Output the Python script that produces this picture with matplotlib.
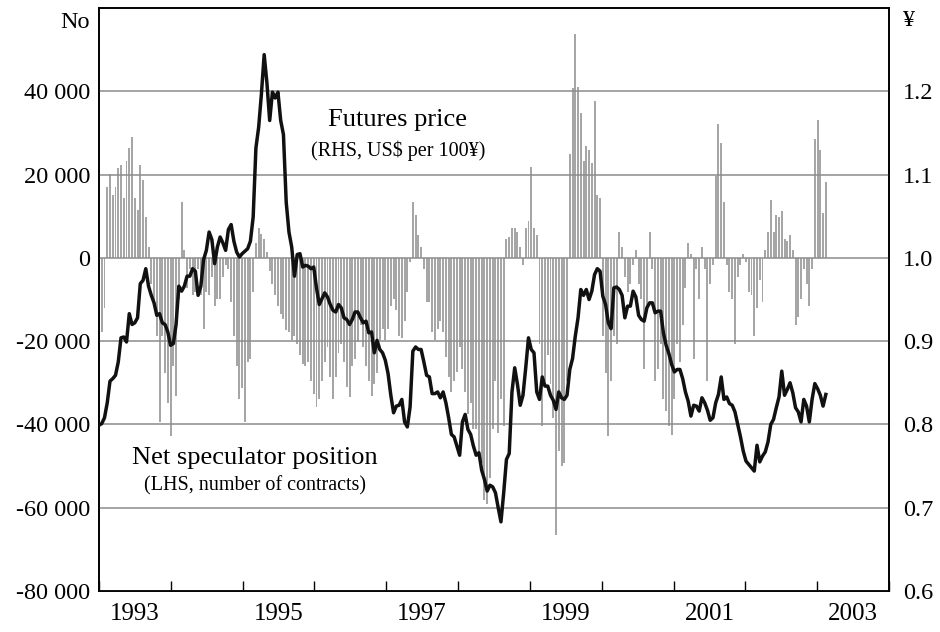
import matplotlib

matplotlib.use("Agg")
import matplotlib.pyplot as plt
import matplotlib.dates as mdates
import matplotlib.ticker as mticker
import pandas as pd
from datetime import datetime

# Fortnightly observations starting January 1993
start_date = "1993-01-01"

# Yen futures price (RHS, US$ per 100 yen)
futures_price = [
    0.799, 0.801, 0.808, 0.826, 0.852, 0.855, 0.859, 0.875, 0.904, 0.905,
    0.899, 0.933, 0.920, 0.922, 0.928, 0.969, 0.973, 0.987, 0.966, 0.955,
    0.946, 0.931, 0.933, 0.922, 0.920, 0.911, 0.895, 0.897, 0.920, 0.966,
    0.960, 0.966, 0.978, 0.978, 0.987, 0.984, 0.955, 0.966, 0.998, 1.009,
    1.031, 1.022, 0.993, 1.013, 1.025, 1.018, 1.009, 1.034, 1.040, 1.020,
    1.007, 1.001, 1.005, 1.008, 1.011, 1.020, 1.049, 1.132, 1.157, 1.197,
    1.244, 1.210, 1.165, 1.199, 1.192, 1.199, 1.165, 1.148, 1.067, 1.031,
    1.013, 0.978, 1.004, 1.005, 0.989, 0.991, 0.990, 0.987, 0.989, 0.964,
    0.944, 0.951, 0.958, 0.953, 0.944, 0.937, 0.935, 0.944, 0.940, 0.928,
    0.926, 0.920, 0.926, 0.935, 0.935, 0.928, 0.922, 0.924, 0.910, 0.911,
    0.886, 0.901, 0.890, 0.886, 0.877, 0.861, 0.835, 0.814, 0.822, 0.823,
    0.830, 0.803, 0.797, 0.821, 0.888, 0.893, 0.890, 0.890, 0.875, 0.859,
    0.857, 0.837, 0.837, 0.839, 0.832, 0.839, 0.826, 0.808, 0.788, 0.785,
    0.774, 0.763, 0.803, 0.812, 0.794, 0.788, 0.774, 0.763, 0.766, 0.745,
    0.734, 0.720, 0.727, 0.725, 0.718, 0.700, 0.683, 0.718, 0.758, 0.765,
    0.839, 0.868, 0.848, 0.823, 0.835, 0.868, 0.904, 0.890, 0.886, 0.839,
    0.830, 0.857, 0.846, 0.846, 0.835, 0.829, 0.818, 0.839, 0.832, 0.830,
    0.835, 0.866, 0.879, 0.906, 0.928, 0.962, 0.955, 0.962, 0.950, 0.960,
    0.980, 0.987, 0.984, 0.954, 0.944, 0.922, 0.915, 0.964, 0.965, 0.962,
    0.955, 0.928, 0.942, 0.942, 0.960, 0.953, 0.931, 0.926, 0.924, 0.940,
    0.946, 0.946, 0.934, 0.936, 0.936, 0.910, 0.895, 0.885, 0.872, 0.863,
    0.866, 0.866, 0.855, 0.839, 0.828, 0.810, 0.823, 0.822, 0.816, 0.832,
    0.826, 0.817, 0.805, 0.808, 0.826, 0.836, 0.857, 0.830, 0.833, 0.825,
    0.823, 0.815, 0.800, 0.785, 0.768, 0.756, 0.752, 0.748, 0.744, 0.775,
    0.755, 0.762, 0.767, 0.779, 0.800, 0.806, 0.820, 0.833, 0.864, 0.835,
    0.842, 0.850, 0.838, 0.820, 0.815, 0.803, 0.830, 0.822, 0.803, 0.830,
    0.849, 0.843, 0.835, 0.822, 0.836,
]

# Net speculator position (LHS, number of contracts)
net_position = [
    -5000, -17900, -12000, 17000, 20100, 15200, 17000, 21500, 22400, 14300,
    23300, 26400, 29100, 14300, 11600, 22400, 18800, 9800, 2700, -6300,
    -11600, -18800, -39400, -18800, -27700, -34900, -42900, -25900, -33100, -9800,
    13400, 1800, -7200, -2700, -8900, -8100, -2700, -8900, -17000, -8100,
    -8900, -4500, -11600, -9800, -9800, -4500, -1800, -2700, -10700, -18800,
    -25900, -34000, -31300, -39400, -25000, -24200, -8100, 3600, 7200, 5800,
    4500, 1300, -3100, -6300, -8900, -11600, -13400, -14800, -17400, -17900,
    -19700, -18800, -20600, -23300, -25500, -25900, -25000, -29500, -32600, -35800,
    -34000, -29500, -25000, -21500, -28600, -34000, -28600, -22800, -20600, -25000,
    -30900, -33500, -25900, -24200, -20100, -16100, -21500, -25900, -29500, -33100,
    -30400, -27700, -19700, -17000, -19700, -17000, -11600, -9800, -12500, -18800,
    -19200, -15200, -8100, -900, 13400, 10300, 5400, 2700, -2700, -10700,
    -10700, -17900, -19700, -17000, -15200, -17900, -23700, -28600, -32200, -29500,
    -27300, -21500, -26800, -32200, -37600, -34900, -41100, -41100, -47400, -49200,
    -58100, -59000, -52800, -41100, -29500, -42000, -34000, -40300, 4500, 4900,
    7200, 7200, 6300, 2700, -1800, 7200, 8900, 21900, 7200, 5400,
    -20600, -40300, -29500, -23300, -30400, -38500, -66600, -46500, -50100, -49200,
    -29500, 25000, 40700, 53700, 41100, 34900, 23300, 26800, 25900, 22800,
    37600, 15200, 14300, -18800, -27700, -42900, -29500, -18800, -20600, 6300,
    2700, -4500, -8100, -6300, -1800, 1800, -6300, -9800, -26800, -11600,
    6300, -2700, -29500, -26800, -20600, -34000, -36700, -40300, -42500, -34000,
    -20600, -25000, -16100, -7200, 3600, 900, -24200, -2700, -9800, 2700,
    -2700, -29500, -6300, -1800, 19700, 32200, 27700, 13400, -1800, -8100,
    -9800, -20600, -4500, -1800, 900, -900, -8100, -8900, -18800, -12000,
    -5400, -10700, 2000, 6300, 13900, 6300, 10300, 9800, 11200, 4500,
    4000, 5400, 1800, -16100, -14300, -9800, -2700, -6300, -11600, -2700,
    28600, 33100, 25900, 10700, 18300,
]

year_labels = ["1993", "1995", "1997", "1999", "2001", "2003"]
left_ticks = [-80000, -60000, -40000, -20000, 0, 20000, 40000]
right_ticks = [0.6, 0.7, 0.8, 0.9, 1.0, 1.1, 1.2]

plt.rcParams["font.family"] = ["Liberation Serif", "DejaVu Serif"]

dates = pd.date_range(start_date, periods=len(futures_price), freq="14D")

fig = plt.figure(figsize=(9.4, 6.32), dpi=100)
ax = fig.add_axes([0.1053, 0.0649, 0.8404, 0.9224])
ax2 = ax.twinx()

# Net speculator position as thin grey bars
ax.bar(dates, net_position, width=10, color="#a6a6a6", linewidth=0, zorder=2)
ax.set_ylim(-80000, 60000)
ax.set_yticks(left_ticks)
ax.yaxis.set_major_formatter(
    mticker.FuncFormatter(lambda v, p: f"{int(v):,}".replace(",", " "))
)
ax.grid(True, axis="y", color="#8c8c8c", linewidth=1.1, zorder=3)
ax.set_axisbelow(False)

# Futures price line
ax2.plot(dates, futures_price, color="#111111", linewidth=2.5, zorder=5)
ax2.set_ylim(0.6, 1.3)
ax2.set_yticks(right_ticks)
ax2.yaxis.set_major_formatter(mticker.FormatStrFormatter("%.1f"))

ax.set_xlim(datetime(1993, 1, 1), datetime(2004, 1, 1))
ax.xaxis.set_major_locator(mdates.YearLocator(1))
ax.xaxis.set_major_formatter(mticker.NullFormatter())
label_pos = [mdates.date2num(datetime(int(y), 7, 2)) for y in year_labels]
ax.xaxis.set_minor_locator(mticker.FixedLocator(label_pos))
ax.xaxis.set_minor_formatter(mticker.FixedFormatter(year_labels))

ax.tick_params(axis="x", which="major", direction="in", length=7.5, width=1.0,
               top=False)
ax.tick_params(axis="x", which="minor", length=0, pad=9, labelsize=18)
ax.tick_params(axis="y", length=0, pad=6.5, labelsize=17.5)
ax2.tick_params(axis="y", length=0, pad=10, labelsize=17.5)

for a in (ax, ax2):
    for s in a.spines.values():
        s.set_linewidth(1.2)
        s.set_color("black")

fig.text(0.0957, 0.965, "No", ha="right", va="center", fontsize=17.5)
fig.text(0.9606, 0.968, "¥", ha="left", va="center", fontsize=17.5)

ax.text(0.3785, 0.808, "Futures price", transform=ax.transAxes,
        ha="center", va="center", fontsize=19, zorder=6)
ax.text(0.3785, 0.756, "(RHS, US$ per 100¥)", transform=ax.transAxes,
        ha="center", va="center", fontsize=14.5, zorder=6)
ax.text(0.1975, 0.228, "Net speculator position", transform=ax.transAxes,
        ha="center", va="center", fontsize=19, zorder=6)
ax.text(0.1975, 0.180, "(LHS, number of contracts)", transform=ax.transAxes,
        ha="center", va="center", fontsize=14.5, zorder=6)

fig.savefig("out.png", dpi=100)
